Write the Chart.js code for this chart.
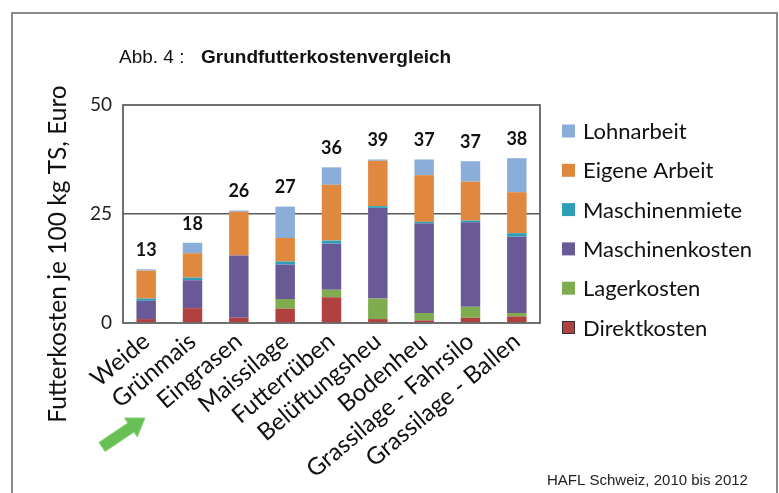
<!DOCTYPE html>
<html>
<head>
<meta charset="utf-8">
<script src="https://cdn.jsdelivr.net/npm/chart.js@4.4.0/dist/chart.umd.min.js"></script>
<style>
  html, body { margin: 0; padding: 0; background: #ffffff; }
  canvas { display: block; }
</style>
</head>
<body>
<canvas id="c" width="779" height="493"></canvas>
<script>
// ---- Data ----
const categories = ['Weide', 'Grünmais', 'Eingrasen', 'Maissilage', 'Futterrüben',
  'Belüftungsheu', 'Bodenheu', 'Grassilage - Fahrsilo', 'Grassilage - Ballen'];

const direktkosten    = [0.9, 3.4, 1.2, 3.3, 5.9, 0.9, 0.6, 1.2, 1.5];
const lagerkosten     = [0.0, 0.0, 0.0, 2.2, 1.7, 4.7, 1.7, 2.5, 0.8];
const maschinenkosten = [4.2, 6.4, 14.3, 7.9, 10.6, 20.8, 20.5, 19.4, 17.5];
const maschinenmiete  = [0.5, 0.6, 0.0, 0.7, 0.7, 0.4, 0.4, 0.4, 0.8];
const eigeneArbeit    = [6.4, 5.6, 10.0, 5.4, 12.8, 10.4, 10.7, 8.9, 9.4];
const lohnarbeit      = [0.3, 2.4, 0.3, 7.2, 4.0, 0.3, 3.6, 4.7, 7.8];

const totalLabels = ['13', '18', '26', '27', '36', '39', '37', '37', '38'];
const yTicks = [0, 25, 50];

const titlePrefix = 'Abb. 4 :';
const titleMain = 'Grundfutterkostenvergleich';
const yTitle = 'Futterkosten je 100 kg TS, Euro';
const sourceNote = 'HAFL Schweiz, 2010 bis 2012';

// ---- Styles ----
const COLORS = {
  direkt: '#B0413F',
  lager: '#7FAC4E',
  maschinen: '#6A5997',
  miete: '#2E9DB6',
  eigene: '#E0883E',
  lohn: '#8BADD9'
};
const FONT = 'Lato, "Open Sans", sans-serif';

const datasets = [
  { label: 'Direktkosten', data: direktkosten, backgroundColor: COLORS.direkt, legendBorder: '#333' },
  { label: 'Lagerkosten', data: lagerkosten, backgroundColor: COLORS.lager },
  { label: 'Maschinenkosten', data: maschinenkosten, backgroundColor: COLORS.maschinen },
  { label: 'Maschinenmiete', data: maschinenmiete, backgroundColor: COLORS.miete },
  { label: 'Eigene Arbeit', data: eigeneArbeit, backgroundColor: COLORS.eigene },
  { label: 'Lohnarbeit', data: lohnarbeit, backgroundColor: COLORS.lohn }
].map(d => Object.assign({ borderWidth: 0, barPercentage: 0.42, categoryPercentage: 1.0 }, d));

const decor = {
  id: 'decor',
  afterDatasetsDraw(chart) {
    const ctx = chart.ctx;
    const a = chart.chartArea;
    ctx.save();
    // plot box
    ctx.strokeStyle = '#4d4d4d';
    ctx.lineWidth = 1.6;
    ctx.strokeRect(a.left, a.top, a.right - a.left, a.bottom - a.top);

    // total labels above stacks
    const topMeta = chart.getDatasetMeta(chart.data.datasets.length - 1);
    ctx.fillStyle = '#111';
    ctx.font = 'bold 18px ' + FONT;
    ctx.textAlign = 'center';
    ctx.textBaseline = 'middle';
    topMeta.data.forEach((bar, i) => {
      ctx.fillText(totalLabels[i], bar.x, bar.y - 19);
    });
    ctx.restore();
  },
  afterDraw(chart) {
    const ctx = chart.ctx;
    ctx.save();
    // outer frame
    ctx.strokeStyle = '#8a8a8a';
    ctx.lineWidth = 2;
    ctx.beginPath();
    ctx.moveTo(12, 493);
    ctx.lineTo(12, 13);
    ctx.lineTo(777, 13);
    ctx.lineTo(777, 493);
    ctx.stroke();

    // title
    ctx.fillStyle = '#111';
    ctx.textBaseline = 'alphabetic';
    ctx.textAlign = 'left';
    ctx.font = '19px "Liberation Sans", Arial, sans-serif';
    ctx.fillText(titlePrefix, 119, 63);
    ctx.font = 'bold 19px "Liberation Sans", Arial, sans-serif';
    ctx.fillText(titleMain, 201, 63);

    // source note
    ctx.font = '15px "Liberation Sans", Arial, sans-serif';
    ctx.fillStyle = '#222';
    ctx.fillText(sourceNote, 547, 485);

    // y-axis title
    ctx.save();
    ctx.translate(58, 254);
    ctx.rotate(-Math.PI / 2);
    ctx.textAlign = 'center';
    ctx.textBaseline = 'middle';
    ctx.font = '24.5px ' + FONT;
    ctx.fillStyle = '#111';
    ctx.fillText(yTitle, 0, 0);
    ctx.restore();

    // legend (reverse order)
    const ds = chart.data.datasets.slice().reverse();
    ctx.font = '22px ' + FONT;
    ctx.textBaseline = 'middle';
    ctx.textAlign = 'left';
    ds.forEach((d, i) => {
      const cy = 131 + i * 39.3;
      ctx.fillStyle = d.backgroundColor;
      ctx.fillRect(562, cy - 6.5, 13, 13);
      if (d.legendBorder) {
        ctx.strokeStyle = d.legendBorder;
        ctx.lineWidth = 1;
        ctx.strokeRect(562.5, cy - 6, 12, 12);
      }
      ctx.fillStyle = '#111';
      ctx.fillText(d.label, 583, cy + 1);
    });

    // green arrow (decoration)
    const B = [102, 447], P = [145, 418];
    const dx = P[0] - B[0], dy = P[1] - B[1];
    const len = Math.hypot(dx, dy);
    const u = [dx / len, dy / len];
    const n = [-u[1], u[0]];
    const H = [P[0] - u[0] * 17, P[1] - u[1] * 17];
    const sw = 5.5, hw = 11.5;
    const pts = [
      [B[0] + n[0] * sw, B[1] + n[1] * sw],
      [H[0] + n[0] * sw, H[1] + n[1] * sw],
      [H[0] + n[0] * hw, H[1] + n[1] * hw],
      P,
      [H[0] - n[0] * hw, H[1] - n[1] * hw],
      [H[0] - n[0] * sw, H[1] - n[1] * sw],
      [B[0] - n[0] * sw, B[1] - n[1] * sw]
    ];
    ctx.beginPath();
    pts.forEach((p, i) => i ? ctx.lineTo(p[0], p[1]) : ctx.moveTo(p[0], p[1]));
    ctx.closePath();
    ctx.fillStyle = '#67BF55';
    ctx.fill();
    ctx.strokeStyle = '#8fd07f';
    ctx.lineWidth = 1;
    ctx.stroke();
    ctx.restore();
  }
};

new Chart(document.getElementById('c'), {
  type: 'bar',
  data: { labels: categories, datasets: datasets },
  options: {
    responsive: false,
    animation: false,
    devicePixelRatio: 1,
    layout: { padding: { top: 105, right: 239, bottom: 0, left: 0 } },
    plugins: {
      legend: { display: false },
      tooltip: { enabled: false },
      title: { display: false }
    },
    scales: {
      x: {
        stacked: true,
        grid: { display: false, drawTicks: false },
        border: { display: false },
        ticks: {
          autoSkip: false,
          minRotation: 40,
          maxRotation: 40,
          padding: 4,
          color: '#111',
          font: { family: FONT, size: 24 }
        },
        afterFit(scale) { scale.height = 170; }
      },
      y: {
        stacked: true,
        min: 0,
        max: 50,
        afterBuildTicks(scale) { scale.ticks = yTicks.map(v => ({ value: v })); },
        grid: {
          drawTicks: false,
          lineWidth: 1.6,
          color: c => (c.tick && c.tick.value === 25) ? '#5a5a5a' : 'rgba(0,0,0,0)'
        },
        border: { display: false },
        ticks: {
          padding: 11,
          color: '#222',
          font: { family: FONT, size: 19 }
        },
        afterFit(scale) { scale.width = 123; }
      }
    }
  },
  plugins: [decor]
});
</script>
</body>
</html>
